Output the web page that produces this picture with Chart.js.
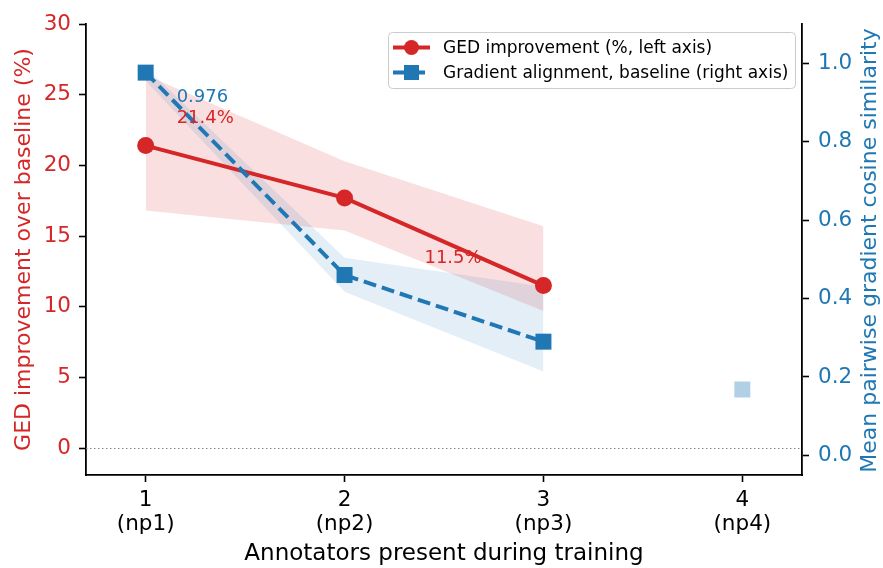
<!DOCTYPE html>
<html>
<head>
<meta charset="utf-8">
<script src="https://cdn.jsdelivr.net/npm/chart.js@4/dist/chart.umd.min.js"></script>
<style>
  html, body { margin: 0; padding: 0; background: #fff; }
  #wrap { width: 883px; height: 568px; position: relative; }
</style>
</head>
<body>
<div id="wrap"><canvas id="c"></canvas></div>
<script>
// Number of annotators present during training, with their run names
const annotators = [1, 2, 3, 4];
const runNames = ['np1', 'np2', 'np3', 'np4'];

// GED improvement over baseline (%), with its spread band
const gedImprovement = [21.4, 17.7, 11.5];
const gedLower = [16.8, 15.4, 9.7];
const gedUpper = [26.4, 20.3, 15.7];

// Mean pairwise gradient cosine similarity of the baseline, with its spread band
const gradAlignment = [0.976, 0.46, 0.29];
const gradLower = [0.955, 0.417, 0.214];
const gradUpper = [0.99, 0.504, 0.43];

// np4 has no GED run, only a faded alignment point
const gradAlignmentNp4 = [0.168];

// Axis ticks
const leftTicks = [0, 5, 10, 15, 20, 25, 30];
const rightTicks = [0, 0.2, 0.4, 0.6, 0.8, 1.0];

const RED = '#d62728';
const BLUE = '#1f77b4';
const FONT = 'DejaVu Sans';
Chart.defaults.font.family = FONT;

const RIGHT_TITLE = 'Mean pairwise gradient cosine similarity';
const LEGEND_ORDER = ['ged', 'grad'];

const pts = (xs, ys) => ys.map((v, i) => ({ x: xs[i], y: v }));

// Value labels placed beside selected points (pixel offsets from the point)
const valueLabels = [
  { dataset: 'grad', index: 0, text: gradAlignment[0].toFixed(3), color: BLUE, dx: 31, dy: 25 },
  { dataset: 'ged', index: 0, text: gedImprovement[0].toFixed(1) + '%', color: RED, dx: 31, dy: -27 },
  { dataset: 'ged', index: 2, text: gedImprovement[2].toFixed(1) + '%', color: RED, dx: -119, dy: -27 }
];

const extrasPlugin = {
  id: 'extras',
  beforeDatasetsDraw(chart) {
    // dotted reference line at zero improvement
    const { ctx, chartArea } = chart;
    const y0 = Math.round(chart.scales.y.getPixelForValue(0)) + 0.5;
    ctx.save();
    ctx.strokeStyle = '#888888';
    ctx.lineWidth = 1;
    ctx.setLineDash([1.5, 2.5]);
    ctx.beginPath();
    ctx.moveTo(chartArea.left, y0);
    ctx.lineTo(chartArea.right, y0);
    ctx.stroke();
    ctx.restore();
  },
  afterDatasetsDraw(chart) {
    const { ctx, chartArea } = chart;
    ctx.save();
    ctx.font = '18px "' + FONT + '"';
    ctx.textBaseline = 'middle';
    ctx.textAlign = 'left';
    valueLabels.forEach(l => {
      const ds = chart.data.datasets.findIndex(d => d.key === l.dataset);
      const el = chart.getDatasetMeta(ds).data[l.index];
      ctx.fillStyle = l.color;
      ctx.fillText(l.text, el.x + l.dx, el.y + l.dy);
    });

    // right axis title, reading bottom to top
    ctx.save();
    ctx.translate(870, (chartArea.top + chartArea.bottom) / 2 + 1);
    ctx.rotate(-Math.PI / 2);
    ctx.textAlign = 'center';
    ctx.fillStyle = BLUE;
    ctx.font = '22px "' + FONT + '"';
    ctx.fillText(RIGHT_TITLE, 0, 0);
    ctx.restore();

    // legend box
    const bx = 388, by = 32, bw = 407, bh = 56;
    ctx.fillStyle = 'rgba(255,255,255,0.8)';
    ctx.strokeStyle = '#cccccc';
    ctx.lineWidth = 1;
    ctx.setLineDash([]);
    ctx.beginPath();
    ctx.roundRect(bx + 0.5, by + 0.5, bw, bh, 4);
    ctx.fill();
    ctx.stroke();

    const entries = LEGEND_ORDER.map(k => chart.data.datasets.find(d => d.key === k));
    entries.forEach((d, i) => {
      const cy = by + 15.5 + i * 25;
      const x0 = bx + 5, x1 = bx + 42, xm = (x0 + x1) / 2;
      ctx.strokeStyle = d.borderColor;
      ctx.lineWidth = 4;
      ctx.setLineDash(d.borderDash || []);
      ctx.beginPath();
      ctx.moveTo(x0, cy);
      ctx.lineTo(x1, cy);
      ctx.stroke();
      ctx.setLineDash([]);
      ctx.fillStyle = d.borderColor;
      if (d.pointStyle === 'rect') {
        ctx.fillRect(xm - 7.5, cy - 7.5, 15, 15);
      } else {
        ctx.beginPath();
        ctx.arc(xm, cy, 7.5, 0, Math.PI * 2);
        ctx.fill();
      }
      ctx.fillStyle = '#000';
      ctx.font = '17px "' + FONT + '"';
      ctx.fillText(d.label, bx + 55, cy + 1);
    });
    ctx.restore();
  }
};

const tickFont = { size: 21.5, family: FONT, lineHeight: 1.116 };
const spineGrid = { drawOnChartArea: false, drawTicks: true, tickLength: 7, tickColor: '#000', tickWidth: 1.6 };
const spineBorder = { display: true, color: '#000', width: 1.8 };

new Chart(document.getElementById('c'), {
  type: 'line',
  data: {
    datasets: [
      {
        key: 'grad', label: 'Gradient alignment, baseline (right axis)',
        data: pts(annotators, gradAlignment), yAxisID: 'y2', order: 0,
        borderColor: BLUE, backgroundColor: BLUE, borderWidth: 4, borderDash: [13, 6],
        pointStyle: 'rect', pointRadius: 11.3, pointBorderWidth: 0, pointBackgroundColor: BLUE, fill: false
      },
      {
        key: 'np4', label: 'np4', data: pts([annotators[3]], gradAlignmentNp4), yAxisID: 'y2', order: 0,
        showLine: false, pointStyle: 'rect', pointRadius: 11.3, pointBorderWidth: 0,
        pointBackgroundColor: 'rgba(31,119,180,0.35)', borderColor: 'rgba(31,119,180,0.35)'
      },
      {
        key: 'ged', label: 'GED improvement (%, left axis)',
        data: pts(annotators, gedImprovement), yAxisID: 'y', order: 1,
        borderColor: RED, backgroundColor: RED, borderWidth: 4,
        pointStyle: 'circle', pointRadius: 8.5, pointBorderWidth: 0, pointBackgroundColor: RED, fill: false
      },
      {
        key: 'gradUpper', data: pts(annotators, gradUpper), yAxisID: 'y2', order: 2,
        borderWidth: 0, pointRadius: 0, backgroundColor: 'rgba(31,119,180,0.12)', fill: '+1'
      },
      {
        key: 'gradLower', data: pts(annotators, gradLower), yAxisID: 'y2', order: 2,
        borderWidth: 0, pointRadius: 0, fill: false
      },
      {
        key: 'gedUpper', data: pts(annotators, gedUpper), yAxisID: 'y', order: 3,
        borderWidth: 0, pointRadius: 0, backgroundColor: 'rgba(214,39,40,0.15)', fill: '+1'
      },
      {
        key: 'gedLower', data: pts(annotators, gedLower), yAxisID: 'y', order: 3,
        borderWidth: 0, pointRadius: 0, fill: false
      }
    ]
  },
  options: {
    responsive: true,
    maintainAspectRatio: false,
    animation: false,
    devicePixelRatio: 1,
    layout: { padding: { top: 24, left: 0, right: 0, bottom: 0 } },
    plugins: { legend: { display: false }, tooltip: { enabled: false } },
    elements: { line: { tension: 0 } },
    scales: {
      x: {
        type: 'linear', position: 'bottom', min: 0.7, max: 4.3,
        afterBuildTicks: s => { s.ticks = annotators.map(v => ({ value: v })); },
        afterFit: s => { s.height = 93; },
        grid: spineGrid, border: spineBorder,
        ticks: {
          color: '#000', font: tickFont, padding: 6, maxRotation: 0, autoSkip: false,
          callback: v => [String(v), '(' + runNames[annotators.indexOf(v)] + ')']
        },
        title: {
          display: true, text: 'Annotators present during training', color: '#000',
          font: { size: 23, family: FONT, lineHeight: 1.2 }, padding: { top: 0, bottom: 0 }
        }
      },
      y: {
        type: 'linear', position: 'left', min: -1.9, max: 30,
        afterBuildTicks: s => { s.ticks = leftTicks.map(v => ({ value: v })); },
        afterFit: s => { s.width = 86; },
        grid: spineGrid, border: spineBorder,
        ticks: { color: RED, font: tickFont, padding: 8, callback: v => String(v) },
        title: {
          display: true, text: 'GED improvement over baseline (%)', color: RED,
          font: { size: 22, family: FONT, lineHeight: 1.2 }, padding: { top: 11, bottom: 0 }
        }
      },
      y2: {
        type: 'linear', position: 'right', min: -0.05, max: 1.1,
        afterBuildTicks: s => { s.ticks = rightTicks.map(v => ({ value: v })); },
        afterFit: s => { s.width = 81; },
        grid: spineGrid, border: spineBorder,
        ticks: { color: BLUE, font: tickFont, padding: 9, callback: v => v.toFixed(1) },
        title: { display: false }
      }
    }
  },
  plugins: [extrasPlugin]
});
</script>
</body>
</html>
